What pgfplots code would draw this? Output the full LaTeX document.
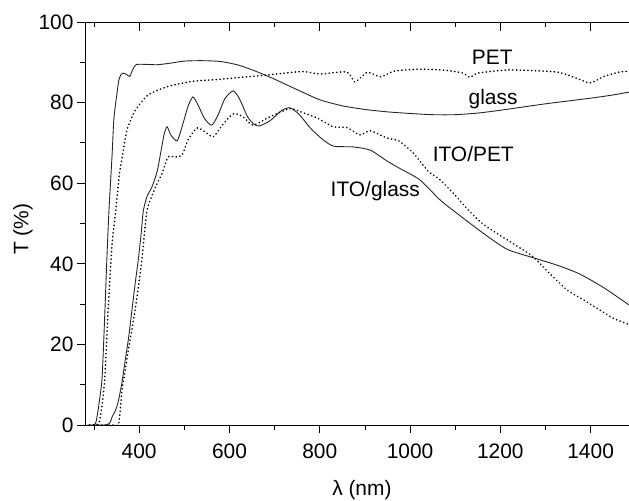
\documentclass[border=0pt]{standalone}
\usepackage{fontspec}
\setmainfont{Liberation Sans}
\usepackage{pgfplots}
\pgfplotsset{compat=1.18}
\usetikzlibrary{calc}

\pgfplotsset{
  spec/.style={
    width=544bp, height=403bp, scale only axis,
    xmin=280, xmax=1485, ymin=0, ymax=100,
  },
  solidc/.style={black!85, line width=0.9pt, smooth, tension=0.4},
  dotc/.style={black, line width=1.6pt, line cap=round, dash pattern=on 0.3pt off 3.5pt, smooth, tension=0.4},
}

\begin{document}
\begin{tikzpicture}
\begin{axis}[
  spec,
  axis x line=bottom, axis y line=left,
  axis line style={-, line width=0.8pt},
  tick align=outside,
  xtick={400,600,...,1400}, minor xtick={300,500,...,1500},
  ytick={0,20,...,100}, minor ytick={10,30,...,90},
  major tick length=8bp, minor tick length=5bp,
  every tick/.style={black, line width=0.8pt},
  tick label style={font=\fontsize{21}{24}\selectfont},
  xticklabel style={yshift=-7bp},
  /pgf/number format/assume math mode=true,
  /pgf/number format/1000 sep={},
  xlabel={λ (nm)}, ylabel={T (\%)},
  every axis x label/.style={at={(axis description cs:0.509,-0.161)}, anchor=center, font=\fontsize{21}{24}\selectfont},
  every axis y label/.style={at={(axis description cs:-0.114,0.486)}, anchor=center, rotate=90, font=\fontsize{21}{24}\selectfont},
  clip=true,
]
% glass
\addplot[solidc] coordinates {
(285,0)(300,0)(305,1)(312,6)(318,12)(324,28)(328,40)(333,53)(340,67)(344,76)(351,82.4)(355,85.6)(360,87)(364,87.3)(372,87)(379,86.5)(385,88)(393,89.4)(410,89.5)(440,89.4)(470,89.8)(500,90.3)(540,90.4)(580,90.2)(620,89.3)(660,87.7)(700,85.8)(750,83.2)(800,80.7)(850,79.2)(900,78.3)(950,77.7)(1000,77.3)(1050,77)(1100,77)(1150,77.4)(1200,78.1)(1250,78.9)(1300,79.7)(1350,80.4)(1400,81.1)(1450,81.9)(1490,82.7)
};
% PET
\addplot[dotc] coordinates {
(290,0)(305,0)(312,1)(318,5)(324,12)(331,28)(340,45)(348,53)(356,62)(364,67.5)(373,73.2)(391,78)(420,81.9)(464,84)(520,85.3)(570,85.7)(610,86.1)(680,86.8)(760,87.7)(800,87.1)(860,87.6)(878,85.1)(905,87.5)(935,86.4)(965,87.8)(1020,88.3)(1080,88)(1118,87.3)(1133,86.3)(1150,87.3)(1215,88.1)(1280,87.9)(1330,87.5)(1370,86)(1399,84.9)(1430,86.5)(1465,87.6)(1490,87.8)
};
% ITO/glass
\addplot[solidc] coordinates {
(295,0)(325,0)(335,0.5)(340,2)(347,3.5)(353,5.5)(361,10)(369,16)(377,22)(384,28.5)(391,35)(398,41)(404,47)(409,53)(417,56.6)(428,59)(440,63)(450,69)(456,72.5)(462,74)(470,72)(484,70.5)(495,74)(508,79)(519,81.4)(530,79.5)(545,76)(561,74.4)(575,77)(590,81)(608,82.9)(622,81)(640,76.5)(655,74.6)(666,74.2)(690,75.5)(715,78)(734,78.7)(755,77)(779,73.7)(805,71)(830,69.2)(874,69)(912,68.2)(949,65.5)(980,63.5)(1022,60.8)(1067,55.8)(1110,52)(1162,47.6)(1215,43.6)(1273,41.5)(1330,39.5)(1377,37.4)(1430,34)(1490,29.4)
};
% ITO/PET
\addplot[dotc] coordinates {
(300,0)(345,0)(355,0.5)(362,8.7)(369,13.5)(376,18.6)(391,28.5)(406,41)(417,53)(431,57.6)(440,60)(451,62.5)(464,66.5)(479,66.5)(495,67)(508,70.7)(528,73.7)(546,72.7)(564,71.5)(585,74.5)(608,77.2)(630,76.5)(652,74.4)(690,76.5)(734,78.5)(760,77.6)(794,76.2)(830,74)(860,73.8)(889,72)(912,73)(949,71.2)(975,70.5)(1007,67.5)(1040,63)(1067,60.8)(1100,57)(1126,53.7)(1160,50)(1200,47)(1244,43.9)(1273,41.7)(1310,37.5)(1348,33.5)(1385,31)(1421,28.5)(1450,26.5)(1490,24.7)
};
\node[font=\fontsize{21}{24}\selectfont] at (axis cs:1182,91.3) {PET};
\node[font=\fontsize{21}{24}\selectfont] at (axis cs:1184,80.9) {glass};
\node[font=\fontsize{21}{24}\selectfont] at (axis cs:1140,67.3) {ITO/PET};
\node[font=\fontsize{21}{24}\selectfont] at (axis cs:923,58) {ITO/glass};
\end{axis}
% top axis line with inward ticks
\begin{axis}[
  spec,
  axis x line=top, axis y line=none,
  axis line style={-, line width=0.8pt},
  tick align=inside,
  xtick={400,600,...,1400}, minor xtick={300,500,...,1500},
  ytick=\empty, xticklabels={},
  major tick length=9bp, minor tick length=5bp,
  every tick/.style={black, line width=0.8pt},
]
\end{axis}
\pgfresetboundingbox
\path[use as bounding box] ($(current axis.south west)+(-85bp,-76bp)$) rectangle ($(current axis.north east)+(0bp,22bp)$);
\end{tikzpicture}
\end{document}
